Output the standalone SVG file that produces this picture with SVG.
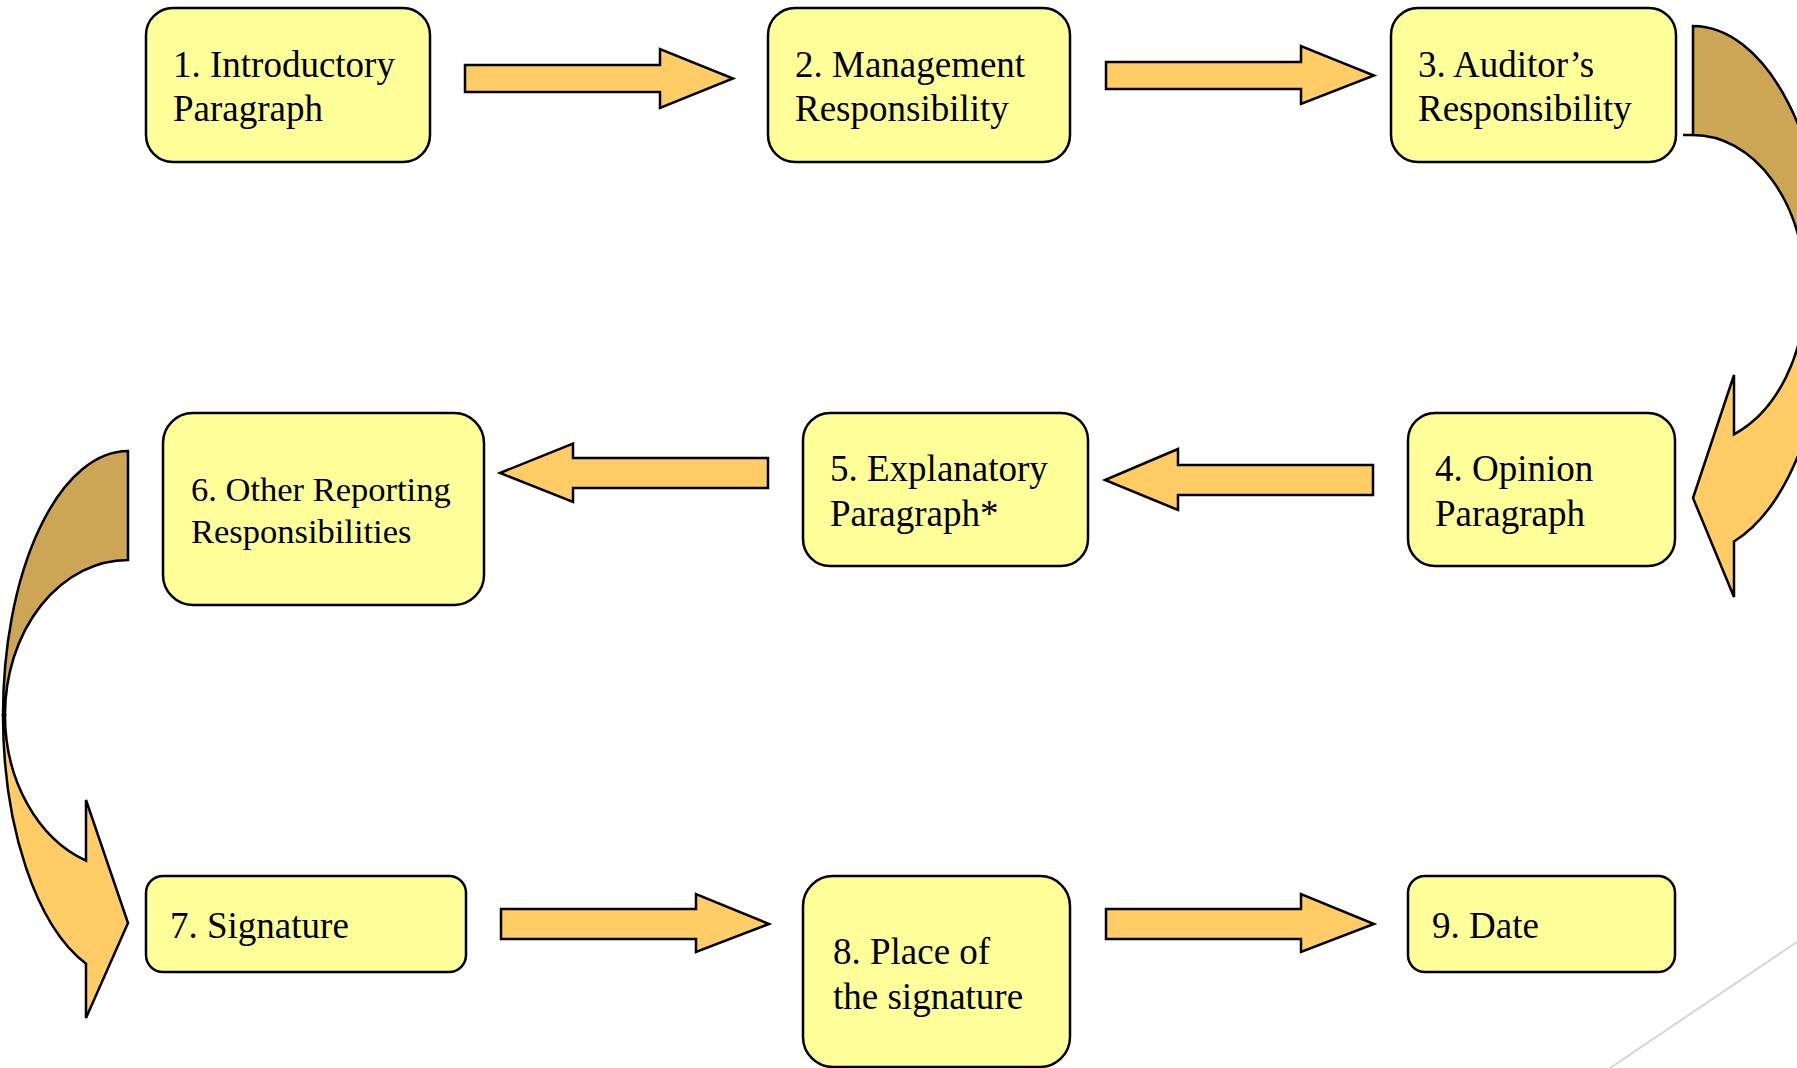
<svg xmlns="http://www.w3.org/2000/svg" width="1797" height="1068" viewBox="0 0 1797 1068">
<style>
.box{fill:#FFFF99;stroke:#000;stroke-width:2.5}
.t{font-family:"Liberation Serif","Times New Roman",serif;font-size:37px;fill:#000}
.t6{font-size:34.5px}
.arr{fill:#FFCC66;stroke:#000;stroke-width:2.5;stroke-linejoin:miter}
.back{fill:#CCA555;stroke:#000;stroke-width:2.5}
</style>
<rect width="1797" height="1068" fill="#fff"/>
<line x1="1797" y1="942" x2="1610" y2="1068" stroke="#d6d6d6" stroke-width="2"/>
<g id="connectors">
<polygon class="arr" points="465,65 660,65 660,49 733,78.5 660,108 660,92 465,92"/>
<polygon class="arr" points="1106,62 1301,62 1301,46 1374,75.5 1301,104 1301,89 1106,89"/>
<polygon class="arr" points="1373,465 1178,465 1178,449 1105,480 1178,510 1178,495 1373,495"/>
<polygon class="arr" points="768,458 573,458 573,443.5 500,473 573,502 573,488 768,488"/>
<polygon class="arr" points="501,909 696,909 696,894 769,924 696,952 696,939 501,939"/>
<polygon class="arr" points="1106,909 1301,909 1301,894 1374,924 1301,952 1301,939 1106,939"/>
<path class="back" d="M1693,26 A135,264 0 0 1 1828,290 L1805.5,290 A112.5,155 0 0 0 1693,135 Z"/>
<path d="M1683,135 H1693" stroke="#000" stroke-width="2.5"/>
<path class="arr" d="M1828,290 A135,264 0 0 1 1734,541.5 L1734,597 L1693,498 L1734,375 L1734,434.3 A112.5,155 0 0 0 1805.5,290 Z"/>
<path class="back" d="M128,451 A125,264 0 0 0 3,715 L5,715 A123,155 0 0 1 128,560 Z"/>
<path class="arr" d="M3,715 A125,264 0 0 0 86,963.7 L86,1018 L128,923 L86,800 L86,860.7 A123,155 0 0 1 5,715 Z"/>
</g>
<g id="node1"><rect class="box" x="146" y="8" width="284" height="154" rx="27"/><text class="t" x="173" y="77">1. Introductory</text><text class="t" x="173" y="121">Paragraph</text></g>
<g id="node2"><rect class="box" x="768" y="8" width="302" height="154" rx="27"/><text class="t" x="795" y="77">2. Management</text><text class="t" x="795" y="121">Responsibility</text></g>
<g id="node3"><rect class="box" x="1391" y="8" width="285" height="154" rx="27"/><text class="t" x="1418" y="77">3. Auditor’s</text><text class="t" x="1418" y="121">Responsibility</text></g>
<g id="node4"><rect class="box" x="1408" y="413" width="267" height="153" rx="27"/><text class="t" x="1435" y="481">4. Opinion</text><text class="t" x="1435" y="526">Paragraph</text></g>
<g id="node5"><rect class="box" x="803" y="413" width="285" height="153" rx="27"/><text class="t" x="830" y="481">5. Explanatory</text><text class="t" x="830" y="526">Paragraph*</text></g>
<g id="node6"><rect class="box" x="163" y="413" width="321" height="192" rx="30"/><text class="t t6" x="191" y="501">6. Other Reporting</text><text class="t t6" x="191" y="543">Responsibilities</text></g>
<g id="node7"><rect class="box" x="146" y="876" width="320" height="96" rx="17"/><text class="t" x="170" y="938">7. Signature</text></g>
<g id="node8"><rect class="box" x="803" y="876" width="267" height="191" rx="30"/><text class="t" x="833" y="964">8. Place of</text><text class="t" x="833" y="1009">the signature</text></g>
<g id="node9"><rect class="box" x="1408" y="876" width="267" height="96" rx="17"/><text class="t" x="1432" y="938">9. Date</text></g>
</svg>
